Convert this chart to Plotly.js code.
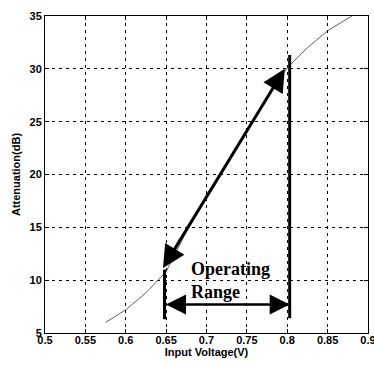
<!DOCTYPE html>
<html><head><meta charset="utf-8">
<script src="https://cdn.plot.ly/plotly-3.0.1.min.js"></script>
<style>html,body{margin:0;padding:0;background:#fff}#c{width:374px;height:365px}</style>
</head><body><div id="c"></div>
<script>
const voltage = [0.575,0.6,0.625,0.65,0.675,0.7,0.725,0.75,0.775,0.8,0.825,0.85,0.875,0.88];
const attenuation = [6.0,7.2,8.8,10.8,14.6,17.9,21.0,24.2,27.3,30.1,32.0,33.6,34.8,35.0];
const xTicks = [0.5,0.55,0.6,0.65,0.7,0.75,0.8,0.85,0.9];
const xTickText = ['0.5','0.55','0.6','0.65','0.7','0.75','0.8','0.85','0.9'];
const yTicks = [5,10,15,20,25,30,35];
const rangeLow = 0.648, rangeHigh = 0.803;
const arrowStart = [0.645, 11.0], arrowEnd = [0.797, 30.0];
const rangeArrowY = 7.7;

const curve = {x: voltage, y: attenuation, mode: 'lines', type: 'scatter',
  line: {color: '#333', width: 0.8}, hoverinfo: 'skip', showlegend: false};
const vlines = {x: [rangeLow, rangeLow, null, rangeHigh, rangeHigh], y: [6.3, 11.0, null, 6.4, 31.3],
  mode: 'lines', type: 'scatter', line: {color: '#000', width: 3}, showlegend: false};

const tickFont = {family: 'Liberation Sans Narrow, Arial Narrow, Arial', size: 11, color: '#000', weight: 'bold'};
const titleFont = {family: 'Liberation Sans Narrow, Arial Narrow, Arial', size: 11, color: '#000', weight: 'bold'};
const axisCommon = {showline: true, mirror: 'ticks', linecolor: '#000', linewidth: 1,
  ticks: 'inside', ticklen: 4, tickcolor: '#000', showgrid: true, gridcolor: '#000',
  griddash: '3px,4px', gridwidth: 1, zeroline: false, ticklabeloverflow: 'allow',
  tickfont: tickFont};

const layout = {
  width: 374, height: 365, margin: {l: 45, r: 6, t: 16, b: 32},
  paper_bgcolor: '#fff', plot_bgcolor: '#fff',
  xaxis: Object.assign({}, axisCommon, {range: [0.5, 0.90001], tickvals: xTicks, ticktext: xTickText,
    ticklabelstandoff: -3,
    title: {text: 'Input Voltage(V)', standoff: 1, font: titleFont}}),
  yaxis: Object.assign({}, axisCommon, {range: [5, 35], tickvals: yTicks,
    title: {text: 'Attenuation(dB)', standoff: 6, font: titleFont}}),
  annotations: [
    {x: arrowEnd[0], y: arrowEnd[1], ax: arrowStart[0], ay: arrowStart[1], xref: 'x', yref: 'y', axref: 'x', ayref: 'y',
     text: '', showarrow: true, arrowside: 'end+start', arrowhead: 2, startarrowhead: 2, arrowsize: 1.5, startarrowsize: 1.5, arrowwidth: 3, arrowcolor: '#000'},
    {x: rangeHigh, y: rangeArrowY, ax: rangeLow, ay: rangeArrowY, xref: 'x', yref: 'y', axref: 'x', ayref: 'y',
     text: '', showarrow: true, arrowside: 'end+start', arrowhead: 2, startarrowhead: 2, arrowsize: 1.6, startarrowsize: 1.6, arrowwidth: 2.5, arrowcolor: '#000'},
    {x: 0.678, y: 11.1, xref: 'x', yref: 'y', xanchor: 'left', yanchor: 'middle', showarrow: false,
     text: '<b>Operating</b>', font: {family: 'Liberation Serif, Times New Roman', size: 18, color: '#000'}},
    {x: 0.678, y: 8.9, xref: 'x', yref: 'y', xanchor: 'left', yanchor: 'middle', showarrow: false,
     text: '<b>Range</b>', font: {family: 'Liberation Serif, Times New Roman', size: 18, color: '#000'}}
  ]
};
Plotly.newPlot('c', [curve, vlines], layout, {staticPlot: true});
</script></body></html>
